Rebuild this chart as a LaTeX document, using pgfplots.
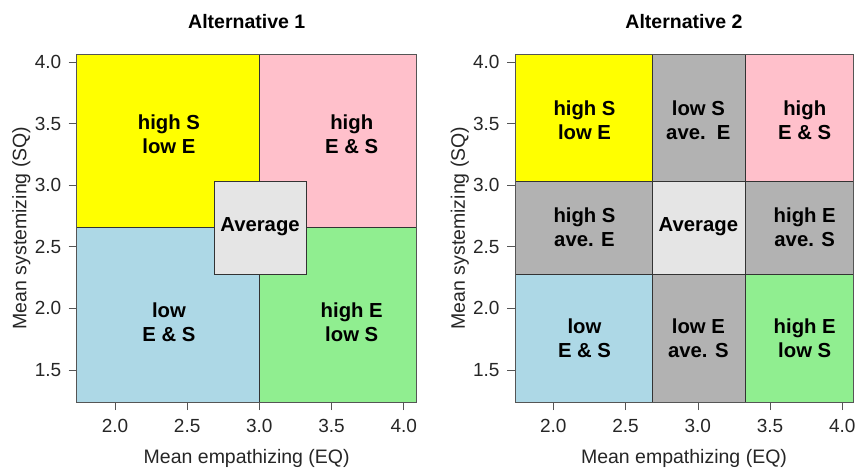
\documentclass[border=0pt]{standalone}
\usepackage{pgfplots}
\pgfplotsset{compat=1.18}
\usepackage{fontspec}
\setmainfont{Liberation Sans}

\definecolor{cYellow}{HTML}{FFFF00}
\definecolor{cPink}{HTML}{FFC0CB}
\definecolor{cBlue}{HTML}{ADD8E6}
\definecolor{cGreen}{HTML}{90EE90}
\definecolor{cGray}{HTML}{B2B2B2}
\definecolor{cAvg}{HTML}{E5E5E5}
\definecolor{frame}{HTML}{555555}

\newcommand{\celltext}{\fontsize{20.3}{24}\selectfont\bfseries}

\pgfplotsset{
  quad/.style={
    scale only axis,
    height=348pt,
    ymin=1.24, ymax=4.065,
    xmin=1.735,
    xtick={2,2.5,3,3.5,4},
    ytick={1.5,2,2.5,3,3.5,4},
    tick align=outside,
    major tick length=8pt,
    tick style={frame, line width=0.6pt},
    axis line style={frame, line width=0.6pt},
    xtick pos=bottom, ytick pos=left,
    /pgf/number format/.cd, fixed, fixed zerofill, precision=1, assume math mode=true,
    /pgfplots/.cd,
    tick label style={font=\fontsize{19}{22}\selectfont, text=black!85},
    xticklabel style={yshift=-6pt},
    yticklabel style={xshift=-4pt},
    label style={font=\fontsize{19.5}{23}\selectfont, text=black!85},
    title style={font=\fontsize{19.5}{23}\selectfont\bfseries, at={(0.5,1)}, anchor=south, yshift=16pt},
    xlabel={Mean empathizing (EQ)},
    ylabel={Mean systemizing (SQ)},
    xlabel style={at={(axis description cs:0.5,-0.162)}, anchor=center},
    ylabel style={at={(axis description cs:-0.163,0.5)}, anchor=center, rotate=0},
    axis on top,
  },
  cell/.style={draw=black!80, line width=0.6pt, fill=#1},
}

\begin{document}
\begin{tikzpicture}
\useasboundingbox (0,0) rectangle (855pt,467pt);

% Alternative 1
\begin{axis}[quad, at={(76.7pt,65pt)}, anchor=south west,
  width=340pt, xmax=4.09, title={Alternative 1}]
  \addplot[cell=cBlue]   coordinates {(1.6,1.1) (3,1.1) (3,2.655) (1.6,2.655)} -- cycle;
  \addplot[cell=cGreen]  coordinates {(3,1.1) (4.2,1.1) (4.2,2.655) (3,2.655)} -- cycle;
  \addplot[cell=cYellow] coordinates {(1.6,2.655) (3,2.655) (3,4.2) (1.6,4.2)} -- cycle;
  \addplot[cell=cPink]   coordinates {(3,2.655) (4.2,2.655) (4.2,4.2) (3,4.2)} -- cycle;
  \addplot[cell=cAvg]    coordinates {(2.69,2.276) (3.325,2.276) (3.325,3.035) (2.69,3.035)} -- cycle;
  \node[align=center, font=\celltext] at (axis cs:2.374,3.41) {high S\\low E};
  \node[align=center, font=\celltext] at (axis cs:3.64,3.41) {high\\E \& S};
  \node[align=center, font=\celltext] at (axis cs:2.374,1.884) {low\\E \& S};
  \node[align=center, font=\celltext] at (axis cs:3.64,1.884) {high E\\low S};
  \node[align=center, font=\celltext] at (axis cs:3.005,2.66) {Average};
\end{axis}

% Alternative 2
\begin{axis}[quad, at={(515pt,65pt)}, anchor=south west,
  width=338pt, xmax=4.074, title={Alternative 2}]
  \addplot[cell=cBlue]   coordinates {(1.6,1.1) (2.688,1.1) (2.688,2.276) (1.6,2.276)} -- cycle;
  \addplot[cell=cGray]   coordinates {(2.688,1.1) (3.327,1.1) (3.327,2.276) (2.688,2.276)} -- cycle;
  \addplot[cell=cGreen]  coordinates {(3.327,1.1) (4.2,1.1) (4.2,2.276) (3.327,2.276)} -- cycle;
  \addplot[cell=cGray]   coordinates {(1.6,2.276) (2.688,2.276) (2.688,3.035) (1.6,3.035)} -- cycle;
  \addplot[cell=cAvg]    coordinates {(2.688,2.276) (3.327,2.276) (3.327,3.035) (2.688,3.035)} -- cycle;
  \addplot[cell=cGray]   coordinates {(3.327,2.276) (4.2,2.276) (4.2,3.035) (3.327,3.035)} -- cycle;
  \addplot[cell=cYellow] coordinates {(1.6,3.035) (2.688,3.035) (2.688,4.2) (1.6,4.2)} -- cycle;
  \addplot[cell=cGray]   coordinates {(2.688,3.035) (3.327,3.035) (3.327,4.2) (2.688,4.2)} -- cycle;
  \addplot[cell=cPink]   coordinates {(3.327,3.035) (4.2,3.035) (4.2,4.2) (3.327,4.2)} -- cycle;
  \node[align=center, font=\celltext] at (axis cs:2.216,3.525) {high S\\low E};
  \node[align=center, font=\celltext] at (axis cs:3.004,3.525) {low S\\ave.\ \ E};
  \node[align=center, font=\celltext] at (axis cs:3.74,3.525) {high\\E \& S};
  \node[align=center, font=\celltext] at (axis cs:2.216,2.655) {high S\\ave. E};
  \node[align=center, font=\celltext] at (axis cs:3.004,2.66) {Average};
  \node[align=center, font=\celltext] at (axis cs:3.74,2.655) {high E\\ave. S};
  \node[align=center, font=\celltext] at (axis cs:2.216,1.758) {low\\E \& S};
  \node[align=center, font=\celltext] at (axis cs:3.004,1.758) {low E\\ave. S};
  \node[align=center, font=\celltext] at (axis cs:3.74,1.758) {high E\\low S};
\end{axis}
\end{tikzpicture}
\end{document}
